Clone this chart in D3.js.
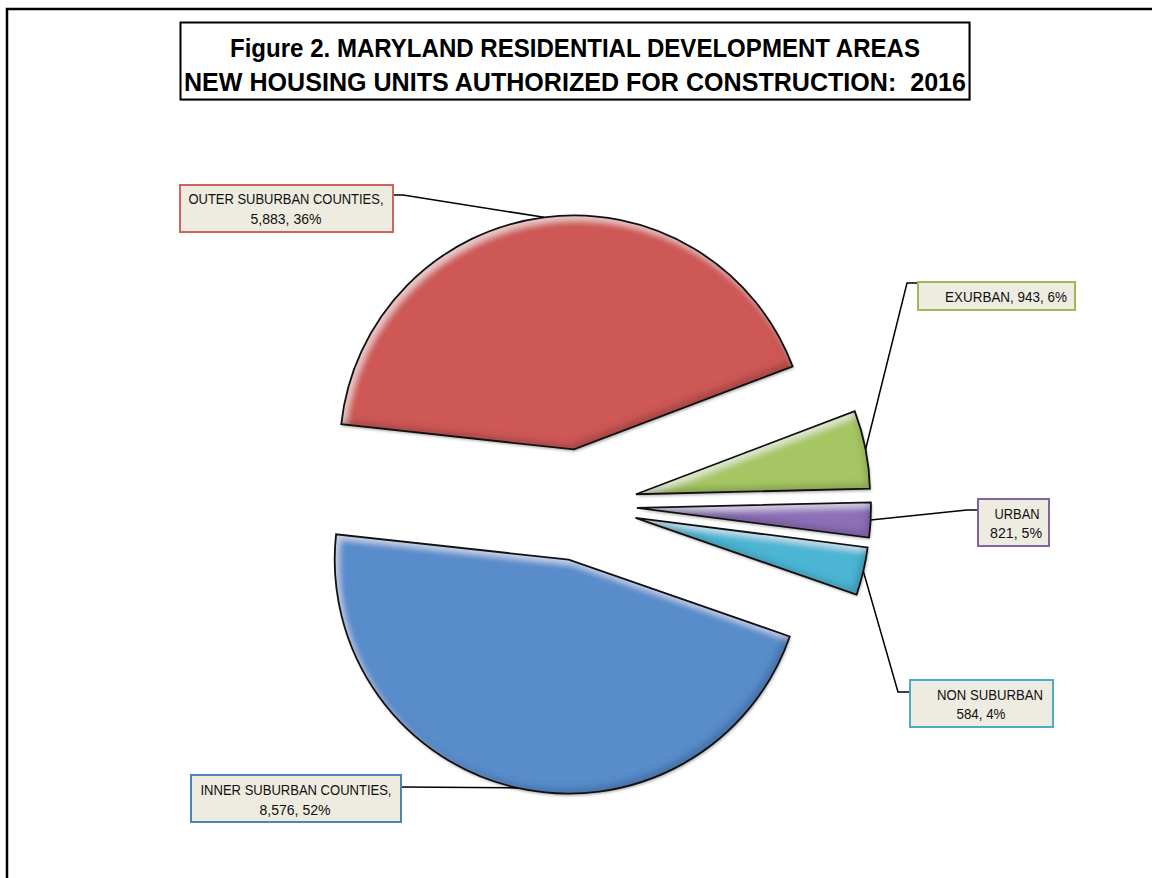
<!DOCTYPE html>
<html>
<head>
<meta charset="utf-8">
<script src="https://cdn.jsdelivr.net/npm/d3@7"></script>
<style>
body { margin: 0; background: #fff; }
svg { display: block; }
text { white-space: pre; }
</style>
</head>
<body>
<script>
var titleLines = ["Figure 2. MARYLAND RESIDENTIAL DEVELOPMENT AREAS",
                  "NEW HOUSING UNITS AUTHORIZED FOR CONSTRUCTION:  2016"];

// slices, clockwise from the left edge of the outer suburban slice
var areas = ["OUTER SUBURBAN COUNTIES", "EXURBAN", "URBAN", "NON SUBURBAN", "INNER SUBURBAN COUNTIES"];
var units = [5883, 943, 821, 584, 8576];
var pctLabels = ["36%", "6%", "5%", "4%", "52%"];
// share of the circle each slice covers in the figure (read off the drawn angles,
// the figure does not size slices by the labelled units)
var sliceShares = [42.5, 5.4, 2.4, 3.3, 46.4];

var fills = ["#cd5956", "#a6c664", "#8d70b8", "#4cb5d3", "#598ccb"];
var borders = ["#d0625f", "#9bbb59", "#8064a2", "#4bacc6", "#4f81bd"];

// hand placed label boxes, like the original
var layout = [
    {box: [180, 185, 213, 47], elbow: [403, 195], end: [393, 195], tx: [286, 286], ty: [204, 224], tw: [195, 71], comma: true},
    {box: [918, 282, 157, 28], elbow: [907, 283], end: [918, 283], tx: [1006], ty: [302], tw: [122], oneLine: true},
    {box: [978, 499, 71, 47], elbow: [967, 510], end: [978, 510], tx: [1017, 1016], ty: [519, 538], tw: [45, 52]},
    {box: [910, 680, 143, 47], elbow: [898, 692], end: [910, 692], tx: [990, 981], ty: [700, 719], tw: [106, 49]},
    {box: [191, 775, 210, 47], elbow: [401, 787], end: [401, 787], tx: [296, 295], ty: [795, 815], tw: [191, 71], comma: true}
];

var W = 1152, H = 878;
var cx = 581, cy = 505, R = 234, explode = 56;
var start = -83.8 * Math.PI / 180;
var labelFont = "'Liberation Sans Narrow', 'Liberation Sans', Arial, sans-serif";

var svg = d3.select("body").append("svg").attr("width", W).attr("height", H);

var defs = svg.append("defs");
var bevel = defs.append("filter").attr("id", "bevel")
    .attr("x", "-10%").attr("y", "-10%").attr("width", "120%").attr("height", "120%");
bevel.append("feGaussianBlur").attr("in", "SourceAlpha").attr("stdDeviation", 3).attr("result", "blur");
bevel.append("feOffset").attr("in", "blur").attr("dx", 4).attr("dy", 5).attr("result", "offA");
bevel.append("feComposite").attr("in", "SourceAlpha").attr("in2", "offA").attr("operator", "out").attr("result", "hiMask");
bevel.append("feFlood").attr("flood-color", "#fff").attr("flood-opacity", 0.55);
bevel.append("feComposite").attr("in2", "hiMask").attr("operator", "in").attr("result", "hi");
bevel.append("feOffset").attr("in", "blur").attr("dx", -4).attr("dy", -5).attr("result", "offB");
bevel.append("feComposite").attr("in", "SourceAlpha").attr("in2", "offB").attr("operator", "out").attr("result", "shMask");
bevel.append("feFlood").attr("flood-color", "#000").attr("flood-opacity", 0.35);
bevel.append("feComposite").attr("in2", "shMask").attr("operator", "in").attr("result", "sh");
var merge = bevel.append("feMerge");
merge.append("feMergeNode").attr("in", "SourceGraphic");
merge.append("feMergeNode").attr("in", "hi");
merge.append("feMergeNode").attr("in", "sh");

var shadow = defs.append("filter").attr("id", "shadow")
    .attr("x", "-10%").attr("y", "-10%").attr("width", "120%").attr("height", "120%");
shadow.append("feDropShadow").attr("dx", 1).attr("dy", 2).attr("stdDeviation", 1.5)
    .attr("flood-color", "#000").attr("flood-opacity", 0.35);

// outer frame (runs off the right and bottom of the page)
svg.append("rect").attr("x", 7).attr("y", 9).attr("width", W + 20).attr("height", H + 20)
    .attr("fill", "none").attr("stroke", "#000").attr("stroke-width", 2.5);

// title box
svg.append("rect").attr("x", 182).attr("y", 24).attr("width", 789).attr("height", 77)
    .attr("fill", "#bbb");
svg.append("rect").attr("x", 180.5).attr("y", 22.5).attr("width", 789).attr("height", 77)
    .attr("fill", "#fff").attr("stroke", "#000").attr("stroke-width", 2);
var titleW = [690, 782], titleY = [57, 91];
for (var t = 0; t < titleLines.length; t++) {
    svg.append("text").attr("x", 575).attr("y", titleY[t])
        .attr("text-anchor", "middle")
        .attr("font-family", labelFont).attr("font-weight", "bold").attr("font-size", 25)
        .attr("textLength", titleW[t]).attr("lengthAdjust", "spacingAndGlyphs")
        .text(titleLines[t]);
}

// pie
var pie = d3.pie().sort(null).value(function(d) { return d; })
    .startAngle(start).endAngle(start + 2 * Math.PI);
var arcs = pie(sliceShares);
var arc = d3.arc().innerRadius(0).outerRadius(R);

function midAngle(a) { return (a.startAngle + a.endAngle) / 2; }
function sliceOrigin(a) {
    var m = midAngle(a);
    return [cx + explode * Math.sin(m), cy - explode * Math.cos(m)];
}

var slices = svg.append("g").selectAll("g").data(arcs).enter().append("g")
    .attr("transform", function(d) { return "translate(" + sliceOrigin(d) + ")"; });
slices.append("path").attr("d", arc)
    .attr("fill", "#000").attr("filter", "url(#shadow)");
slices.append("path").attr("d", arc)
    .attr("fill", function(d, i) { return fills[i]; })
    .attr("filter", "url(#bevel)");
slices.append("path").attr("d", arc)
    .attr("fill", "none").attr("stroke", "#111").attr("stroke-width", 1.8)
    .attr("stroke-linejoin", "miter");

// leader lines
var line = d3.line();
for (var i = 0; i < arcs.length; i++) {
    var o = sliceOrigin(arcs[i]), m = midAngle(arcs[i]);
    var p = [o[0] + R * Math.sin(m), o[1] - R * Math.cos(m)];
    svg.append("path").attr("d", line([p, layout[i].elbow, layout[i].end]))
        .attr("fill", "none").attr("stroke", "#000").attr("stroke-width", 1.5);
}

// data labels
function labelLines(i) {
    var num = d3.format(",")(units[i]) + ", " + pctLabels[i];
    if (layout[i].oneLine) return [areas[i] + ", " + num];
    return [areas[i] + (layout[i].comma ? "," : ""), num];
}

for (var i = 0; i < areas.length; i++) {
    var L = layout[i];
    svg.append("rect").attr("x", L.box[0]).attr("y", L.box[1])
        .attr("width", L.box[2]).attr("height", L.box[3])
        .attr("fill", "#eeece1").attr("stroke", borders[i]).attr("stroke-width", 2);
    var lines = labelLines(i);
    for (var k = 0; k < lines.length; k++) {
        svg.append("text").attr("x", L.tx[k]).attr("y", L.ty[k])
            .attr("text-anchor", "middle")
            .attr("font-family", labelFont).attr("font-size", 14.5).attr("fill", "#111")
            .attr("textLength", L.tw[k]).attr("lengthAdjust", "spacingAndGlyphs")
            .text(lines[k]);
    }
}
</script>
</body>
</html>
